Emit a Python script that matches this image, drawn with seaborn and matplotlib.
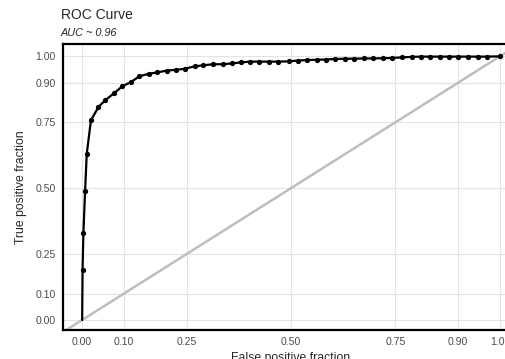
import numpy as np
import pandas as pd
import matplotlib
matplotlib.use("Agg")
import matplotlib.pyplot as plt
import seaborn as sns

# ROC curve points (false positive fraction, true positive fraction)
fpf = [0.0, 0.001, 0.003, 0.007, 0.011, 0.021, 0.039, 0.055, 0.077, 0.096,
       0.117, 0.137, 0.159, 0.180, 0.203, 0.225, 0.246, 0.269, 0.290, 0.313,
       0.336, 0.358, 0.380, 0.402, 0.424, 0.447, 0.470, 0.494, 0.516, 0.538,
       0.561, 0.583, 0.606, 0.629, 0.651, 0.675, 0.697, 0.721, 0.742, 0.765,
       0.789, 0.810, 0.833, 0.856, 0.879, 0.900, 0.924, 0.948, 0.968, 1.0]
tpf = [0.0, 0.19, 0.33, 0.49, 0.63, 0.757, 0.808, 0.833, 0.861, 0.886,
       0.903, 0.924, 0.934, 0.939, 0.946, 0.949, 0.953, 0.962, 0.966, 0.970,
       0.970, 0.973, 0.977, 0.980, 0.980, 0.980, 0.980, 0.981, 0.984, 0.986,
       0.987, 0.988, 0.990, 0.991, 0.991, 0.992, 0.992, 0.993, 0.994, 0.996,
       0.998, 0.999, 0.999, 0.999, 0.999, 0.999, 0.999, 0.999, 0.999, 1.0]
breaks = [0.0, 0.10, 0.25, 0.50, 0.75, 0.90, 1.00]
break_labels = ["0.00", "0.10", "0.25", "0.50", "0.75", "0.90", "1.00"]
auc_text = "AUC ~ 0.96"

df = pd.DataFrame({"fpf": fpf, "tpf": tpf})

sns.set_style("white")
plt.rcParams["font.family"] = ["Liberation Sans", "DejaVu Sans"]

fig = plt.figure(figsize=(5.05, 3.59), dpi=100)
# panel runs off the right edge of the image, as in the reference
ax = fig.add_axes([0.1238, 0.0794, 0.905, 0.7967])

ax.axline((0, 0), (1, 1), color="#bebebe", lw=1.8, zorder=1)
sns.lineplot(data=df.iloc[1:], x="fpf", y="tpf", ax=ax, color="black", lw=1.6,
             marker="o", markersize=3.8, markeredgewidth=0,
             estimator=None, sort=False, zorder=3)
# the curve starts at the origin with no filled dot
ax.plot(df.fpf[:2], df.tpf[:2], color="black", lw=1.6, zorder=3)

ax.set_xlim(-0.047, 1.047)
ax.set_ylim(-0.04, 1.045)
ax.set_xticks(breaks)
ax.set_xticklabels(break_labels)
ax.set_yticks(breaks)
ax.set_yticklabels(break_labels)
ax.tick_params(length=0, labelsize=7.6, labelcolor="#4d4d4d", pad=5)
ax.grid(True, color="#e3e3e3", lw=0.8)
ax.set_axisbelow(True)
for s in ax.spines.values():
    s.set_color("black")
    s.set_linewidth(1.6)
    s.set_visible(True)

ax.set_xlabel("False positive fraction", fontsize=8.8, labelpad=3)
ax.set_ylabel("True positive fraction", fontsize=8.8, labelpad=6)

fig.text(61 / 505, 1 - 15 / 359, "ROC Curve", fontsize=10, va="center", ha="left")
fig.text(61 / 505, 1 - 33 / 359, auc_text, fontsize=7.8, style="italic",
         va="center", ha="left")

fig.savefig("out.png", dpi=100)
